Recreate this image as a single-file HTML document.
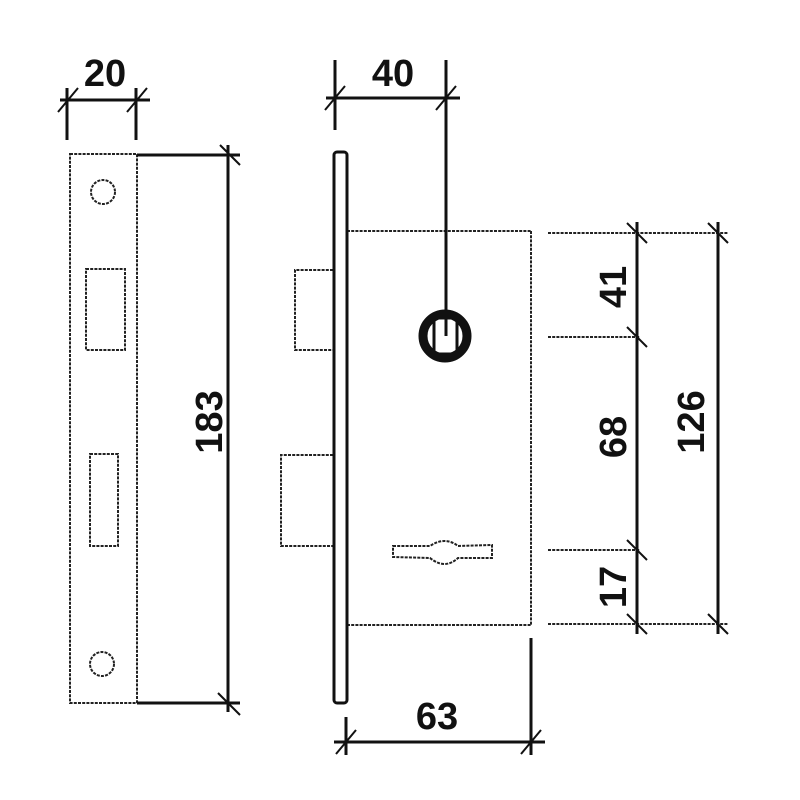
<!DOCTYPE html>
<html><head><meta charset="utf-8"><style>body{margin:0;background:#fff}svg{display:block}text{font-family:"Liberation Sans",sans-serif;font-weight:bold;fill:#111}</style></head>
<body>
<svg width="800" height="800" viewBox="0 0 800 800">
<g fill="none" stroke="#222" stroke-width="2" stroke-dasharray="3 1.2">
<rect x="70" y="154" width="67" height="549"/>
<circle cx="103" cy="192" r="12"/>
<circle cx="102" cy="664" r="12"/>
<rect x="86" y="269" width="39" height="81"/>
<rect x="90" y="454" width="28" height="92"/>
<line x1="347" y1="231" x2="531" y2="231"/>
<line x1="531" y1="231" x2="531" y2="625"/>
<line x1="347" y1="625" x2="531" y2="625"/>
<path d="M333 270 H295 V350 H333"/>
<path d="M333 455 H281 V546 H333"/>
<path d="M393 546 L430 546 Q445 536 458 546 L492 545 L492 558 L458 558 Q445 570 430 558 L393 557 Z"/>
<line x1="548" y1="233" x2="728" y2="233"/>
<line x1="548" y1="337" x2="640" y2="337"/>
<line x1="548" y1="550" x2="640" y2="550"/>
<line x1="548" y1="624" x2="728" y2="624"/>
</g>
<g fill="none" stroke="#111" stroke-width="3">
<rect x="334" y="152" width="13" height="551" rx="3"/>
<line x1="137" y1="155" x2="240" y2="155"/>
<line x1="137" y1="703" x2="240" y2="703"/>
<line x1="228" y1="145" x2="228" y2="712"/>
<line x1="60" y1="100" x2="150" y2="100"/>
<line x1="67" y1="88" x2="67" y2="140"/>
<line x1="136" y1="88" x2="136" y2="140"/>
<line x1="326" y1="98" x2="460" y2="98"/>
<line x1="335" y1="60" x2="335" y2="130"/>
<line x1="446" y1="60" x2="446" y2="336"/>
<line x1="334" y1="742" x2="545" y2="742"/>
<line x1="346" y1="717" x2="346" y2="755"/>
<line x1="531" y1="638" x2="531" y2="755"/>
<line x1="637" y1="222" x2="637" y2="634"/>
<line x1="718" y1="222" x2="718" y2="634"/>
<circle cx="445" cy="336" r="22" stroke-width="9"/>
<rect x="434" y="318" width="23" height="36" stroke-width="3"/>
</g>
<g stroke="#111" stroke-width="2">
<line x1="58" y1="112" x2="78" y2="88"/><line x1="127" y1="112" x2="147" y2="88"/>
<line x1="220" y1="145" x2="240" y2="165"/><line x1="218" y1="693" x2="240" y2="715"/>
<line x1="325" y1="110" x2="345" y2="86"/><line x1="436" y1="110" x2="456" y2="86"/>
<line x1="336" y1="754" x2="356" y2="730"/><line x1="521" y1="754" x2="541" y2="730"/>
<line x1="627" y1="223" x2="647" y2="243"/><line x1="708" y1="223" x2="728" y2="243"/>
<line x1="627" y1="327" x2="647" y2="347"/><line x1="627" y1="540" x2="647" y2="560"/>
<line x1="627" y1="614" x2="647" y2="634"/><line x1="708" y1="614" x2="728" y2="634"/>
</g>
<text x="105" y="86" font-size="38" text-anchor="middle">20</text>
<text x="393" y="86" font-size="38" text-anchor="middle">40</text>
<text x="437" y="729" font-size="38" text-anchor="middle">63</text>
<text transform="translate(222,422) rotate(-90)" font-size="38" text-anchor="middle">183</text>
<text transform="translate(626,287) rotate(-90)" font-size="38" text-anchor="middle">41</text>
<text transform="translate(626,437) rotate(-90)" font-size="38" text-anchor="middle">68</text>
<text transform="translate(626,587) rotate(-90)" font-size="38" text-anchor="middle">17</text>
<text transform="translate(704,422) rotate(-90)" font-size="38" text-anchor="middle">126</text>
</svg>
</body></html>
